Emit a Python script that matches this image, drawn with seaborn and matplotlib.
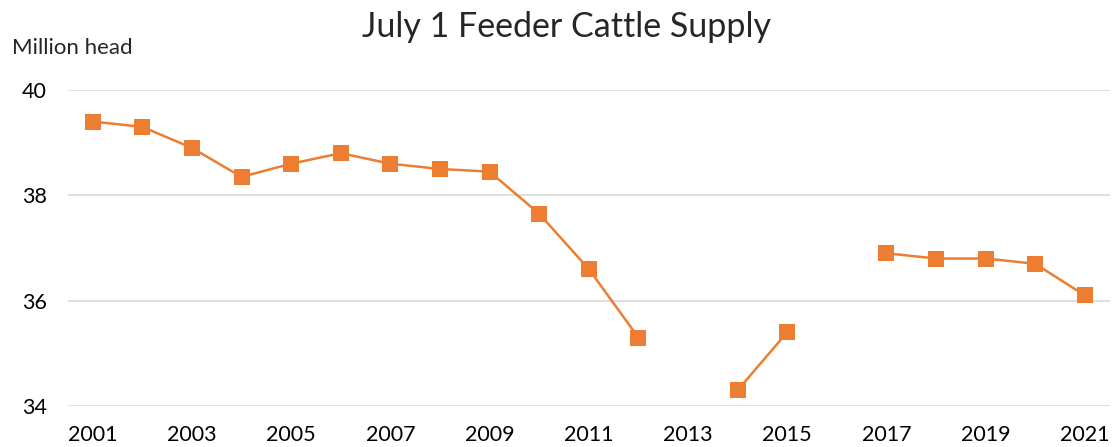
import numpy as np
import pandas as pd
import matplotlib.pyplot as plt
import seaborn as sns

# July 1 feeder cattle supply, million head (no report for 2013 and 2016)
years = list(range(2001, 2022))
supply = [39.4, 39.3, 38.9, 38.35, 38.6, 38.8, 38.6, 38.5, 38.45, 37.65,
          36.6, 35.3, np.nan, 34.3, 35.4, np.nan, 36.9, 36.8, 36.8, 36.7, 36.1]
x_ticks = list(range(2001, 2022, 2))
y_ticks = [34, 36, 38, 40]

df = pd.DataFrame({"year": years, "supply": supply})
# split the series where values are missing so the line breaks there
df["segment"] = df["supply"].isna().cumsum()
df = df.dropna()

sns.set_style("white")
plt.rcParams["font.family"] = ["Lato", "DejaVu Sans"]

fig = plt.figure(figsize=(11.13, 4.47), dpi=100)
ax = fig.add_axes([0.061, 0.0917, 0.936, 0.707])

color = "#ED7D31"
sns.lineplot(data=df, x="year", y="supply", units="segment", estimator=None,
             color=color, linewidth=1.8, marker="s", markersize=11,
             markeredgewidth=0, ax=ax)

ax.set_xlim(2000.5, 2021.5)
ax.set_ylim(34, 40)
ax.set_xticks(x_ticks)
ax.set_yticks(y_ticks)
ax.tick_params(axis="both", length=0, labelsize=15.5, colors="#000000")
ax.tick_params(axis="x", pad=14)
ax.tick_params(axis="y", pad=15)
ax.grid(axis="y", color="#D9D9D9", linewidth=1.2)
ax.set_axisbelow(True)
for s in ax.spines.values():
    s.set_visible(False)
ax.set_xlabel("")
ax.set_ylabel("")

fig.text(0.509, 0.94, "July 1 Feeder Cattle Supply", ha="center", va="center",
         fontsize=24.5)
fig.text(0.011, 0.893, "Million head", ha="left", va="center", fontsize=16)

fig.savefig("out.png", dpi=100)
